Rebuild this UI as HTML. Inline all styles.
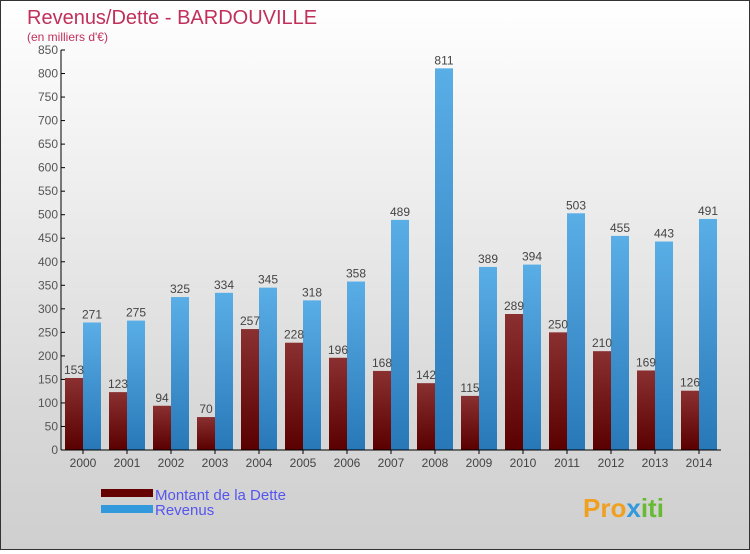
<!DOCTYPE html>
<html><head><meta charset="utf-8"><style>
html,body{margin:0;padding:0}
body{width:750px;height:550px;overflow:hidden;font-family:"Liberation Sans",sans-serif}
#wrap{position:relative;width:748px;height:548px;border:1px solid #333;background:linear-gradient(#ffffff,#f0f0f0 30%,#d8d8d8 75%,#cfcfcf)}
</style></head><body>
<div id="wrap">
<svg id="chart" width="748" height="548" xmlns="http://www.w3.org/2000/svg">
<defs>
<linearGradient id="gd" x1="0" y1="0" x2="0" y2="1"><stop offset="0" stop-color="#8a3030"/><stop offset="1" stop-color="#5a0000"/></linearGradient>
<linearGradient id="gr" x1="0" y1="0" x2="0" y2="1"><stop offset="0" stop-color="#5aaee6"/><stop offset="1" stop-color="#2878b8"/></linearGradient>
</defs>
<text x="26" y="23" font-size="20" fill="#c0305a">Revenus/Dette - BARDOUVILLE</text>
<text x="26" y="40" font-size="12" fill="#c0305a">(en milliers d'€)</text>
<g id="g"></g>
<rect x="100" y="488" width="52" height="8" fill="#660000"/>
<rect x="100" y="504" width="52" height="8" fill="#3399dd"/>
<text x="154" y="499" font-size="15" fill="#5555ee">Montant de la Dette</text>
<text x="154" y="514" font-size="15" fill="#5555ee">Revenus</text>
<text x="582" y="516" font-size="26" font-weight="bold" fill="#f0a020">Pro<tspan fill="#3399dd">x</tspan><tspan fill="#66bb33">iti</tspan></text>
</svg>
</div>
<script>
const years=["2000","2001","2002","2003","2004","2005","2006","2007","2008","2009","2010","2011","2012","2013","2014"];
const dette=[153,123,94,70,257,228,196,168,142,115,289,250,210,169,126];
const revenus=[271,275,325,334,345,318,358,489,811,389,394,503,455,443,491];
const ticks=[0,50,100,150,200,250,300,350,400,450,500,550,600,650,700,750,800,850];
const NS="http://www.w3.org/2000/svg";
const g=document.getElementById('g');
const x0=60,y0=449,ymax=850,ph=400,step=44;
const y=v=>y0-v/ymax*ph;
const cx=i=>x0+22+i*step;
function mk(t,a){const e=document.createElementNS(NS,t);for(const k in a)e.setAttribute(k,a[k]);g.appendChild(e);return e;}
ticks.forEach(t=>{
 const l=mk('line',{x1:x0,x2:x0+4,y1:y(t),y2:y(t),stroke:'#000'});
 
 
 const tx=mk('text',{x:x0-3,y:y(t)+4,'font-size':12,fill:'#555','text-anchor':'end'});
 tx.textContent=t;
 
 
});
years.forEach((yr,i)=>{
 const c=cx(i);
 const b1=mk('rect',{x:c-18,y:y(dette[i]),width:18,height:y0-y(dette[i]),fill:'url(#gd)'});
 
 
 const b2=mk('rect',{x:c,y:y(revenus[i]),width:18,height:y0-y(revenus[i]),fill:'url(#gr)'});
 
 
 const t1=mk('text',{x:c-9,y:y(dette[i])-4,'font-size':12,fill:'#444','text-anchor':'middle'});
 t1.textContent=dette[i];
 
 
 const t2=mk('text',{x:c+9,y:y(revenus[i])-4,'font-size':12,fill:'#444','text-anchor':'middle'});
 t2.textContent=revenus[i];
 
 
 const tk=mk('line',{x1:c,x2:c,y1:y0,y2:y0+4,stroke:'#000'});
 
 
 const xl=mk('text',{x:c,y:y0+17,'font-size':12,fill:'#444','text-anchor':'middle'});
 xl.textContent=yr;
 
 
});
const ya=mk('line',{x1:x0,x2:x0,y1:y(850),y2:y0,stroke:'#000'});


const xa=mk('line',{x1:x0,x2:x0+step*15,y1:y0,y2:y0,stroke:'#000'});


</script>
</body></html>
